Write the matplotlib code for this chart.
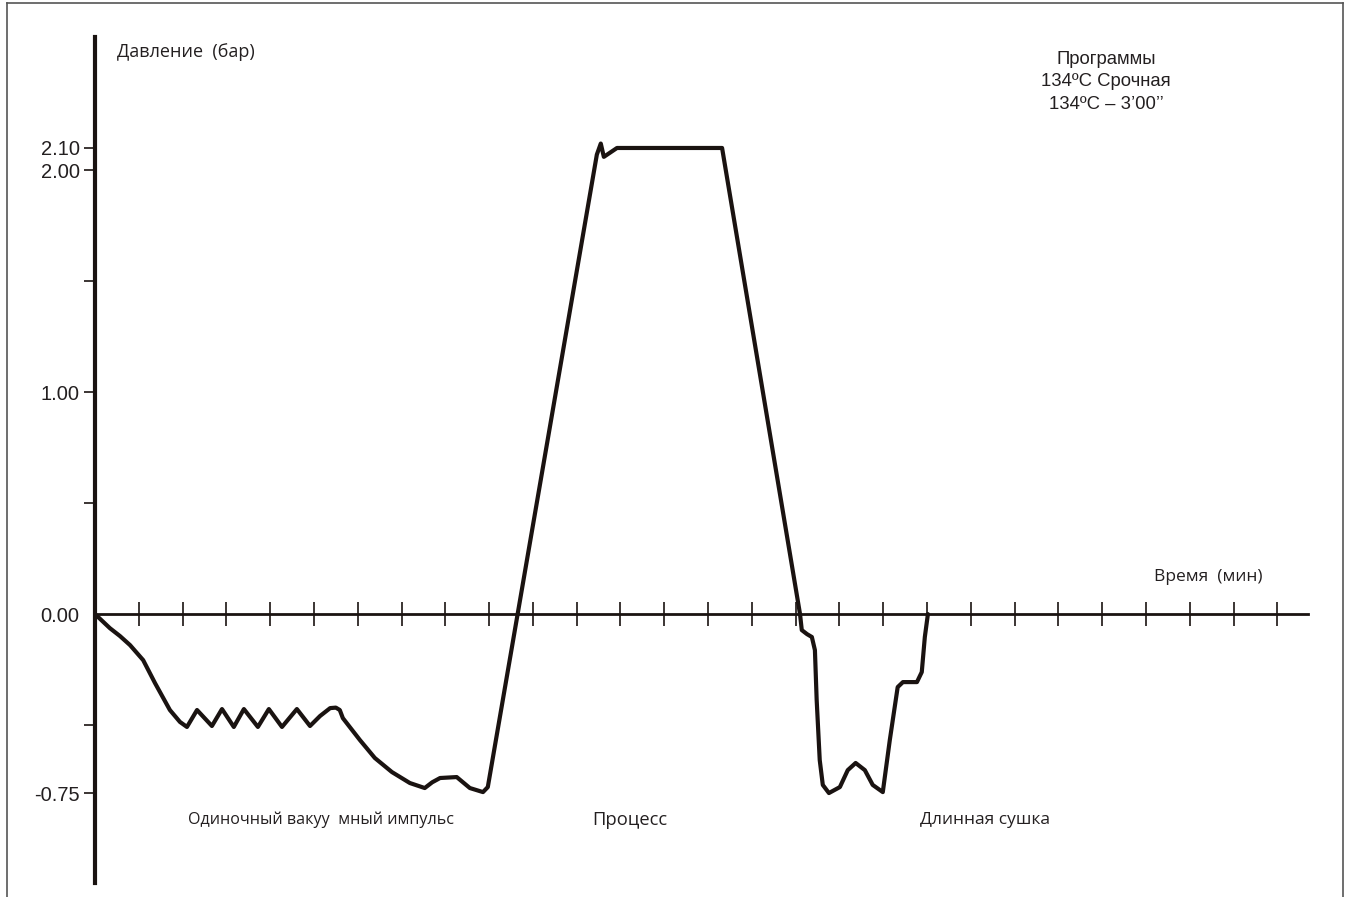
import matplotlib
matplotlib.use("Agg")
import matplotlib.pyplot as plt
from matplotlib.lines import Line2D
import numpy as np

# pressure curve of the sterilisation cycle (time in min, pressure in bar)
time_min = [0.00, 0.34, 0.57, 0.80, 1.10, 1.37, 1.71, 1.94, 2.10, 2.33, 2.67, 2.90, 3.17,
            3.40, 3.72, 3.97, 4.27, 4.61, 4.91, 5.14, 5.37, 5.50, 5.59, 5.66, 6.05, 6.39,
            6.78, 7.19, 7.53, 7.70, 7.88, 8.26, 8.56, 8.86, 8.97,
            11.46, 11.55, 11.62, 11.92, 14.32,
            16.10, 16.14, 16.26, 16.37, 16.44, 16.48, 16.55, 16.62, 16.76, 17.01,
            17.19, 17.37, 17.58, 17.76, 17.99, 18.15, 18.33, 18.45, 18.77, 18.88,
            18.95, 19.02]
pressure_bar = [0.000, -0.059, -0.092, -0.130, -0.193, -0.289, -0.402, -0.452, -0.473, -0.402,
                -0.469, -0.398, -0.473, -0.398, -0.473, -0.398, -0.473, -0.398, -0.469,
                -0.427, -0.394, -0.392, -0.402, -0.436, -0.528, -0.603, -0.662, -0.708, -0.729,
                -0.705, -0.687, -0.683, -0.729, -0.746, -0.725,
                2.07, 2.12, 2.06, 2.10, 2.10,
                0.000, -0.067, -0.084, -0.096, -0.151, -0.360, -0.612, -0.716, -0.750,
                -0.725, -0.654, -0.624, -0.654, -0.716, -0.746, -0.528, -0.306, -0.285,
                -0.285, -0.243, -0.096, 0.000]

y_ticks = [-0.75, 0.0, 1.0, 2.0, 2.1]
y_tick_labels = ["-0.75", "0.00", "1.00", "2.00", "2.10"]
y_minor = [-0.465, 0.5, 1.5]
x_ticks = list(range(1, 28))

phases = ["Одиночный вакуу  мный импульс", "Процесс", "Длинная сушка"]
program_text = "Программы\n134ºC Срочная\n134ºC – 3’00’’"

ink = "#1a1311"
txt = "#231f20"
k_neg = 1.075  # the drawing stretches the vacuum side a little


def fwd(y):
    y = np.asarray(y, dtype=float)
    return np.where(y < 0, y * k_neg, y)


def inv(y):
    y = np.asarray(y, dtype=float)
    return np.where(y < 0, y / k_neg, y)


W, H = 1345, 897
fig = plt.figure(figsize=(W / 100, H / 100), dpi=100)
ax = fig.add_axes([95 / W, (H - 883) / H, (1308 - 95) / W, (883 - 37) / H])
ax.set_yscale("function", functions=(fwd, inv))
ax.set_xlim(0, 27.7)
ax.set_ylim(-1.127, 2.6)

ax.plot(time_min, pressure_bar, color=ink, lw=3.0, solid_joinstyle="round",
        solid_capstyle="round", zorder=3)

for s in ["top", "right"]:
    ax.spines[s].set_visible(False)
ax.spines["left"].set_position(("data", 0))
ax.spines["bottom"].set_position(("data", 0))
ax.spines["left"].set_linewidth(3.0)
ax.spines["bottom"].set_linewidth(2.0)
ax.spines["left"].set_color(ink)
ax.spines["bottom"].set_color(ink)

ax.set_xticks(x_ticks)
ax.set_xticklabels([])
ax.tick_params(axis="x", direction="inout", length=17, width=1.2, color=ink)

ax.set_yticks(y_ticks)
ax.set_yticklabels(y_tick_labels, family=["Liberation Sans", "DejaVu Sans"], fontsize=14.5,
                   color=txt)
ax.set_yticks(y_minor, minor=True)
ax.tick_params(axis="y", which="both", direction="out", length=8, width=1.2,
               color=ink, pad=3)
ax.yaxis.get_major_ticks()[1].tick1line.set_visible(False)

cyr = ["Open Sans", "DejaVu Sans"]
fig.text(117 / W, 1 - 52 / H, "Давление  (бар)", family=cyr, fontsize=13,
         ha="left", va="center", color=txt)
fig.text(1262 / W, 1 - 577 / H, "Время  (мин)", family=cyr, fontsize=12.5,
         ha="right", va="center", color=txt)
fig.text(1106 / W, 1 - 82 / H, program_text, family=["Liberation Sans", "DejaVu Sans"],
         fontsize=13.3, ha="center", va="center", linespacing=1.45, color=txt)

phase_x = [321, 630, 985]
phase_size = [11.6, 13.2, 12.5]
for px, label, fs in zip(phase_x, phases, phase_size):
    fig.text(px / W, 1 - 820 / H, label, family=cyr, fontsize=fs,
             ha="center", va="center", color=txt)

# outer frame of the drawing
frame = dict(color="#555555", lw=1.2)
fig.add_artist(Line2D([7 / W, 7 / W], [0, 1 - 3 / H], **frame))
fig.add_artist(Line2D([7 / W, 1343 / W], [1 - 3 / H, 1 - 3 / H], **frame))
fig.add_artist(Line2D([1343 / W, 1343 / W], [0, 1 - 3 / H], **frame))

fig.savefig("out.png", dpi=100)
